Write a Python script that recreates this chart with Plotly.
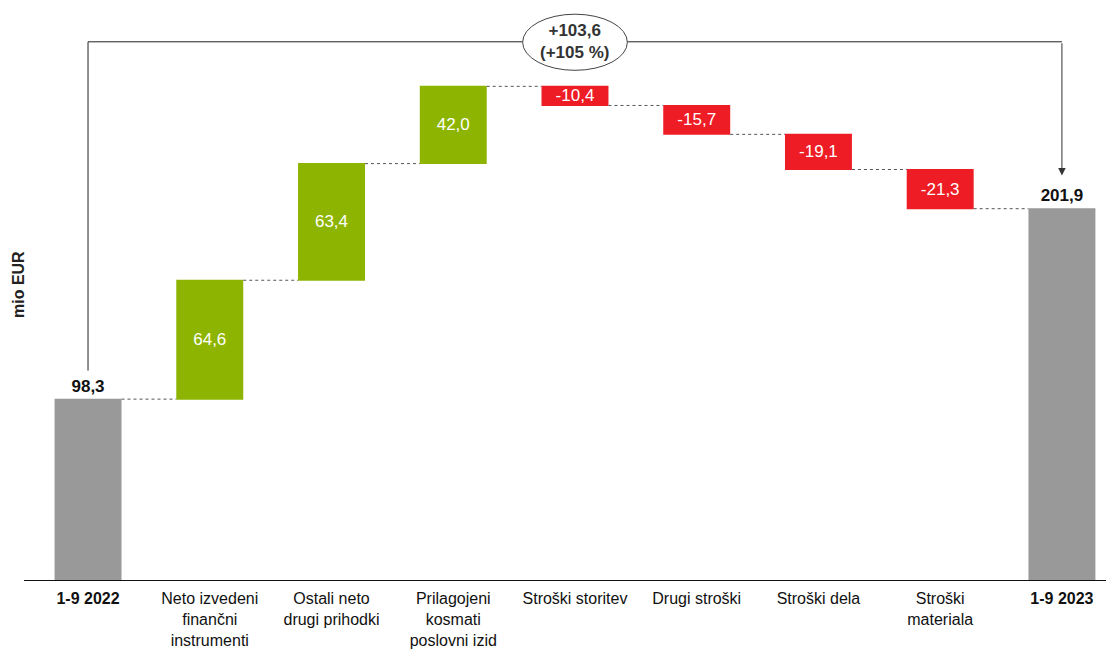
import plotly.graph_objects as go

categories = ["1-9 2022", "Neto izvedeni finančni instrumenti", "Ostali neto drugi prihodki",
              "Prilagojeni kosmati poslovni izid", "Stroški storitev", "Drugi stroški",
              "Stroški dela", "Stroški materiala", "1-9 2023"]
tick_labels = ["<b>1-9 2022</b>", "Neto izvedeni<br>finančni<br>instrumenti", "Ostali neto<br>drugi prihodki",
               "Prilagojeni<br>kosmati<br>poslovni izid", "Stroški storitev", "Drugi stroški",
               "Stroški dela", "Stroški<br>materiala", "<b>1-9 2023</b>"]
values = [98.3, 64.6, 63.4, 42.0, -10.4, -15.7, -19.1, -21.3, 201.9]
measures = ["absolute", "relative", "relative", "relative", "relative", "relative", "relative", "relative", "total"]

GREEN = "#8DB400"
RED = "#EE1C25"
GRAY = "#999999"
FONT = "Liberation Sans, Arial, sans-serif"
FS = 17

def fmt(v, sign=False):
    s = f"{v:+.1f}" if sign else f"{v:.1f}"
    return s.replace(".", ",")

texts = []
positions = []
for m, v in zip(measures, values):
    if m in ("absolute", "total"):
        texts.append(f"<b>{fmt(v)}</b>")
        positions.append("outside")
    else:
        texts.append(fmt(v))
        positions.append("inside")

fig = go.Figure()
fig.add_trace(go.Waterfall(
    x=categories, y=values, measure=measures,
    text=texts, textposition=positions,
    insidetextanchor="middle", constraintext="none", cliponaxis=False,
    insidetextfont=dict(color="white", size=FS, family=FONT),
    outsidetextfont=dict(color="#111111", size=FS, family=FONT),
    increasing=dict(marker=dict(color=GREEN)),
    decreasing=dict(marker=dict(color=RED)),
    totals=dict(marker=dict(color=GRAY)),
    connector=dict(mode="between", line=dict(color="#555555", width=1, dash="dot")),
    width=0.55, hoverinfo="skip",
))

start, end = values[0], values[-1]
diff = end - start
pct = diff / start * 100
top_y = 292.5
left_low = start + 15.5
tip_y = end + 18
xl, xr = 0, len(categories) - 1
xm = 4

line_style = dict(color="#222222", width=1)
fig.add_shape(type="line", xref="x", yref="y", x0=xl, x1=xl, y0=left_low, y1=top_y, line=line_style)
fig.add_shape(type="line", xref="x", yref="y", x0=xl, x1=xr, y0=top_y, y1=top_y, line=line_style)
fig.add_shape(type="circle", xref="x", yref="y", x0=xm - 0.43, x1=xm + 0.43,
              y0=top_y - 15.5, y1=top_y + 15, line=dict(color="#444444", width=1), fillcolor="white")
fig.add_annotation(x=xr, y=tip_y, ax=xr, ay=top_y, xref="x", yref="y", axref="x", ayref="y",
                   showarrow=True, arrowhead=2, arrowsize=1.5, arrowwidth=1, arrowcolor="#333333", text="")
fig.add_annotation(x=xm, y=top_y, xref="x", yref="y", showarrow=False,
                   text=f"<b>{fmt(diff, True)}<br>(+{pct:.0f} %)</b>",
                   font=dict(size=FS, color="#333333", family=FONT))
fig.add_annotation(xref="paper", yref="paper", x=-6 / 1082, y=(580 - 285) / 580, xanchor="center", yanchor="middle",
                   text="<b>mio EUR</b>", textangle=-90, showarrow=False,
                   font=dict(size=16, color="#222222", family=FONT))

fig.update_layout(
    width=1106, height=649,
    margin=dict(l=24, r=0, t=0, b=69, autoexpand=False),
    plot_bgcolor="white", paper_bgcolor="white",
    showlegend=False,
    font=dict(family=FONT, size=FS, color="#111111"),
    xaxis=dict(range=[-0.526, 8.362], tickvals=categories, ticktext=tick_labels, automargin=False,
               showline=True, linecolor="#111111", linewidth=1, showgrid=False, ticks="",
               ticklabelstandoff=4,
               tickfont=dict(size=16, color="#111111", family=FONT), fixedrange=True),
    yaxis=dict(range=[0, 580 / 1.84], visible=False, showgrid=False, zeroline=False, fixedrange=True,
               automargin=False),
)

fig.write_html("out.html", config={"displayModeBar": False},
               post_script="document.body.style.margin='0';document.body.style.overflow='hidden';")
